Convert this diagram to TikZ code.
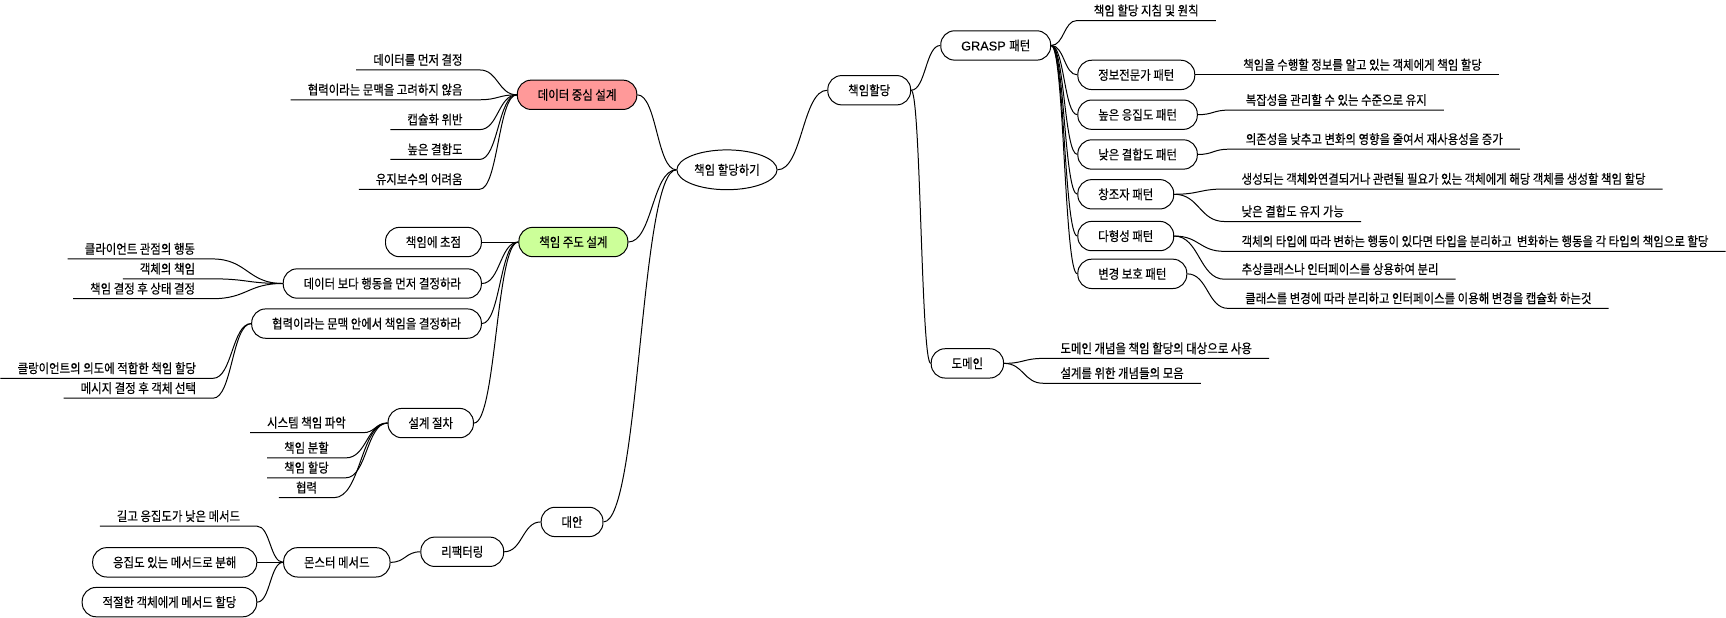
\documentclass[tikz,border=0pt]{standalone}
\usepackage{fontspec}
\setmainfont{Noto Sans CJK KR}[FakeStretch=0.87,FakeBold=0.3]
\newfontfamily\latinfont{Liberation Sans}[FakeBold=0.3]
\usetikzlibrary{positioning,shapes.geometric,calc}
\definecolor{datafill}{HTML}{FF9999}
\definecolor{respfill}{HTML}{CCFF99}

\begin{document}
\begin{tikzpicture}[
    x=1pt, y=-1pt,
    font=\fontsize{13.2}{15}\selectfont,
    root/.style={ellipse,draw,line width=1pt,minimum width=100.7pt,minimum height=40pt,inner sep=0pt},
    box/.style={rectangle,draw,line width=1pt,rounded corners=14pt,fill=white,minimum height=29.5pt,inner xsep=20.5pt,text height=11pt,text depth=1pt},
    leaf/.style={inner xsep=17pt,inner ysep=5pt,text height=10pt,text depth=0pt},
    link/.style={line width=1pt,to path={.. controls ($(\tikztostart)!0.5!(\tikztostart -| \tikztotarget)$) and ($(\tikztotarget)!0.5!(\tikztotarget -| \tikztostart)$) .. (\tikztotarget)}}
]

\fill[white] (0,0) rectangle (1726,621);

% Root
\node[root] (root) at (725.3,170.7) {책임 할당하기};

% Left side
\node[box, fill=datafill, left=39.3pt of root, yshift=75.4pt] (data) {데이터 중심 설계};
\node[box, fill=respfill, left=48.3pt of root, yshift=-72.6pt] (resp) {책임 주도 설계};
\node[box, left=73.3pt of root, yshift=-354pt] (alt) {대안};

% Data-centric design
\node[leaf, left=37.4pt of data, anchor=south east, yshift=25pt] (data1) {데이터를 먼저 결정};
\node[leaf, left=37.4pt of data, anchor=south east, yshift=-5pt] (data2) {협력이라는 문맥을 고려하지 않음};
\node[leaf, left=37.4pt of data, anchor=south east, yshift=-35pt] (data3) {캡슐화 위반};
\node[leaf, left=37.4pt of data, anchor=south east, yshift=-65pt] (data4) {높은 결합도};
\node[leaf, left=37.4pt of data, anchor=south east, yshift=-95pt] (data5) {유지보수의 어려움};

% Responsibility-driven design
\node[box, left=36.7pt of resp] (focus) {책임에 초점};
\node[box, left=36.7pt of resp, yshift=-41.7pt] (behav) {데이터 보다 행동을 먼저 결정하라};
\node[box, left=36.7pt of resp, yshift=-82pt] (collab) {협력이라는 문맥 안에서 책임을 결정하라};
\node[box, left=44.7pt of resp, yshift=-182pt] (proc) {설계 절차};

\node[leaf, left=71pt of behav, anchor=south east, yshift=24.7pt] (behav1) {클라이언트 관점의 행동};
\node[leaf, left=71pt of behav, anchor=south east, yshift=4.7pt] (behav2) {객체의 책임};
\node[leaf, left=71pt of behav, anchor=south east, yshift=-15.3pt] (behav3) {책임 결정 후 상태 결정};

\node[leaf, left=38.3pt of collab, anchor=south east, yshift=-55pt] (collab1) {클랑이언트의 의도에 적합한 책임 할당};
\node[leaf, left=38.3pt of collab, anchor=south east, yshift=-75pt] (collab2) {메시지 결정 후 객체 선택};

\node[leaf, left=81.5pt of proc, anchor=south, yshift=-9.7pt] (proc1) {시스템 책임 파악};
\node[leaf, left=81.5pt of proc, anchor=south, yshift=-35pt] (proc2) {책임 분할};
\node[leaf, left=81.5pt of proc, anchor=south, yshift=-55pt] (proc3) {책임 할당};
\node[leaf, left=81.5pt of proc, anchor=south, yshift=-75pt] (proc4) {협력};

% Alternative
\node[box, left=36.7pt of alt, yshift=-30pt] (refac) {리팩터링};
\node[box, left=30pt of refac, yshift=-10.6pt] (monster) {몬스터 메서드};
\node[leaf, left=26pt of monster, anchor=south east, yshift=36.3pt] (monster1) {길고 응집도가 낮은 메서드};
\node[box, left=26pt of monster] (monster2) {응집도 있는 메서드로 분해};
\node[box, left=26pt of monster, yshift=-40pt] (monster3) {적절한 객체에게 메서드 할당};

% Right side
\node[box, right=50pt of root, yshift=80pt] (assign) {책임할당};
\node[box, right=29.3pt of assign, yshift=45pt] (grasp) {{\latinfont\fontsize{12.8}{15}\selectfont GRASP }패턴};
\node[box, right=19.7pt of assign, yshift=-274.6pt] (domain) {도메인};

% GRASP patterns
\node[leaf, right=25.7pt of grasp, anchor=south west, yshift=25pt] (guide) {책임 할당 지침 및 원칙};
\node[box, right=26.3pt of grasp, yshift=-29.6pt] (expert) {정보전문가 패턴};
\node[box, right=26.3pt of grasp, yshift=-69.6pt] (cohesion) {높은 응집도 패턴};
\node[box, right=26.3pt of grasp, yshift=-109.6pt] (coupling) {낮은 결합도 패턴};
\node[box, right=26.3pt of grasp, yshift=-149.6pt] (creator) {창조자 패턴};
\node[box, right=26.3pt of grasp, yshift=-191.6pt] (poly) {다형성 패턴};
\node[box, right=26.3pt of grasp, yshift=-229.6pt] (protect) {변경 보호 패턴};

\node[leaf, right=31pt of expert, anchor=south west] (expert1) {책임을 수행할 정보를 알고 있는 객체에게 책임 할당};
\node[leaf, right=31pt of cohesion, anchor=south west, yshift=4.6pt] (cohesion1) {복잡성을 관리할 수 있는 수준으로 유지};
\node[leaf, right=31pt of coupling, anchor=south west, yshift=5.3pt] (coupling1) {의존성을 낮추고 변화의 영향을 줄여서 재사용성을 증가};
\node[leaf, right=50.6pt of creator, anchor=south west, yshift=5.3pt] (creator1) {생성되는 객체와연결되거나 관련될 필요가 있는 객체에게 해당 객체를 생성할 책임 할당};
\node[leaf, right=50.6pt of creator, anchor=south west, yshift=-27.4pt] (creator2) {낮은 결합도 유지 가능};
\node[leaf, right=50.6pt of poly, anchor=south west, yshift=-15.4pt] (poly1) {객체의 타입에 따라 변하는 행동이 있다면 타입을 분리하고~ 변화하는 행동을 각 타입의 책임으로 할당};
\node[leaf, right=50.6pt of poly, anchor=south west, yshift=-43.4pt] (poly2) {추상클래스나 인터페이스를 상용하여 분리};
\node[leaf, right=41pt of protect, anchor=south west, yshift=-34.7pt] (protect1) {클래스를 변경에 따라 분리하고 인터페이스를 이용해 변경을 캡슐화 하는것};

% Domain
\node[leaf, right=39.5pt of domain, anchor=south west, yshift=5pt] (domain1) {도메인 개념을 책임 할당의 대상으로 사용};
\node[leaf, right=39.5pt of domain, anchor=south west, yshift=-20pt] (domain2) {설계를 위한 개념들의 모음};

% Connections
\draw[link] (root.west) to (data.east);
\draw[link] (root.west) to (resp.east);
\draw[link] (root.west) to (alt.east);
\draw[link] (root.east) to (assign.west);

\draw[link] (data.west) to (data1.south east) -- (data1.south west);
\draw[link] (data.west) to (data2.south east) -- (data2.south west);
\draw[link] (data.west) to (data3.south east) -- (data3.south west);
\draw[link] (data.west) to (data4.south east) -- (data4.south west);
\draw[link] (data.west) to (data5.south east) -- (data5.south west);

\draw[link] (resp.west) to (focus.east);
\draw[link] (resp.west) to (behav.east);
\draw[link] (resp.west) to (collab.east);
\draw[link] (resp.west) to (proc.east);

\draw[link] (behav.west) to (behav1.south east) -- (behav1.south west);
\draw[link] (behav.west) to (behav2.south east) -- (behav2.south west);
\draw[link] (behav.west) to (behav3.south east) -- (behav3.south west);
\draw[link] (collab.west) to (collab1.south east) -- (collab1.south west);
\draw[link] (collab.west) to (collab2.south east) -- (collab2.south west);
\draw[link] (proc.west) to (proc1.south east) -- (proc1.south west);
\draw[link] (proc.west) to (proc2.south east) -- (proc2.south west);
\draw[link] (proc.west) to (proc3.south east) -- (proc3.south west);
\draw[link] (proc.west) to (proc4.south east) -- (proc4.south west);

\draw[link] (alt.west) to (refac.east);
\draw[link] (refac.west) to (monster.east);
\draw[link] (monster.west) to (monster1.south east) -- (monster1.south west);
\draw[link] (monster.west) to (monster2.east);
\draw[link] (monster.west) to (monster3.east);

\draw[link] (assign.east) to (grasp.west);
\draw[link] (assign.east) to (domain.west);

\draw[link] (grasp.east) to (guide.south west) -- (guide.south east);
\draw[link] (grasp.east) to (expert.west);
\draw[link] (grasp.east) to (cohesion.west);
\draw[link] (grasp.east) to (coupling.west);
\draw[link] (grasp.east) to (creator.west);
\draw[link] (grasp.east) to (poly.west);
\draw[link] (grasp.east) to (protect.west);

\draw[link] (expert.east) to (expert1.south west) -- (expert1.south east);
\draw[link] (cohesion.east) to (cohesion1.south west) -- (cohesion1.south east);
\draw[link] (coupling.east) to (coupling1.south west) -- (coupling1.south east);
\draw[link] (creator.east) to (creator1.south west) -- (creator1.south east);
\draw[link] (creator.east) to (creator2.south west) -- (creator2.south east);
\draw[link] (poly.east) to (poly1.south west) -- (poly1.south east);
\draw[link] (poly.east) to (poly2.south west) -- (poly2.south east);
\draw[link] (protect.east) to (protect1.south west) -- (protect1.south east);

\draw[link] (domain.east) to (domain1.south west) -- (domain1.south east);
\draw[link] (domain.east) to (domain2.south west) -- (domain2.south east);

\end{tikzpicture}
\end{document}
